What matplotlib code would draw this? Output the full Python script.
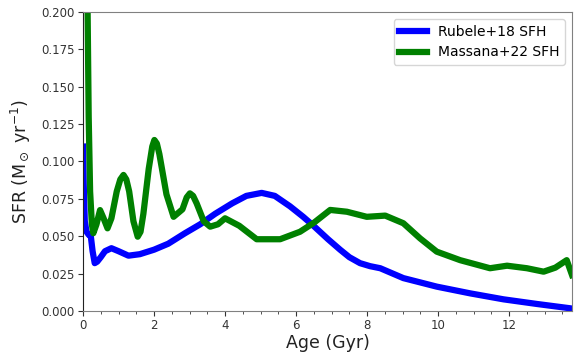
import matplotlib.pyplot as plt
from matplotlib.ticker import MultipleLocator, FormatStrFormatter

# Rubele+18 SFH
age_rubele = [0.0, 0.02, 0.05, 0.1, 0.16, 0.22, 0.27, 0.33, 0.4, 0.5, 0.62, 0.8, 1.0,
              1.28, 1.6, 2.0, 2.4, 2.87, 3.3, 3.72, 4.2, 4.6, 5.03, 5.4, 5.83,
              6.2, 6.49, 6.9, 7.24, 7.5, 7.8, 8.08, 8.37, 9.02, 9.96, 10.9,
              11.84, 12.78, 13.72, 13.77]
sfr_rubele = [0.110, 0.085, 0.060, 0.053, 0.051, 0.050, 0.040, 0.032, 0.033, 0.036,
              0.040, 0.042, 0.040, 0.037, 0.038, 0.041, 0.045, 0.052, 0.058,
              0.065, 0.072, 0.077, 0.079, 0.077, 0.070, 0.063, 0.057, 0.048,
              0.041, 0.036, 0.032, 0.030, 0.0286, 0.022, 0.0163, 0.0118,
              0.0078, 0.0047, 0.0018, 0.0016]

# Massana+22 SFH
age_massana = [0.1, 0.13, 0.16, 0.2, 0.25, 0.29, 0.38, 0.48, 0.58, 0.69, 0.8, 0.95,
               1.05, 1.14, 1.22, 1.3, 1.42, 1.54, 1.62, 1.7, 1.85, 1.95, 2.01,
               2.08, 2.15, 2.35, 2.55, 2.8, 2.92, 3.01, 3.1, 3.2, 3.4, 3.58,
               3.8, 4.0, 4.4, 4.89, 5.55, 6.11, 6.5, 6.96, 7.43, 7.99, 8.51,
               9.02, 9.49, 9.96, 10.62, 11.46, 11.94, 12.5, 12.97, 13.3, 13.62,
               13.77]
sfr_massana = [0.30, 0.20, 0.13, 0.08, 0.058, 0.052, 0.058, 0.0675, 0.062, 0.0553,
               0.062, 0.08, 0.088, 0.091, 0.088, 0.08, 0.06, 0.0497, 0.053,
               0.065, 0.095, 0.110, 0.1144, 0.112, 0.105, 0.078, 0.063, 0.068,
               0.076, 0.0787, 0.077, 0.072, 0.06, 0.0564, 0.058, 0.062, 0.057,
               0.048, 0.048, 0.053, 0.059, 0.0676, 0.0664, 0.063, 0.0638,
               0.0587, 0.0486, 0.0397, 0.034, 0.0286, 0.0303, 0.0286, 0.0263,
               0.029, 0.034, 0.024]

fig = plt.figure(figsize=(5.74, 3.53), dpi=100)
ax = fig.add_axes([0.1446, 0.119, 0.852, 0.847])

ax.plot(age_rubele, sfr_rubele, color="blue", lw=4.5, label="Rubele+18 SFH",
        solid_joinstyle="round")
ax.plot(age_massana, sfr_massana, color="green", lw=4.5, label="Massana+22 SFH",
        solid_joinstyle="round")

ax.set_xlim(0, 13.77)
ax.set_ylim(0, 0.2)
ax.xaxis.set_major_locator(MultipleLocator(2))
ax.xaxis.set_minor_locator(MultipleLocator(0.5))
ax.yaxis.set_major_locator(MultipleLocator(0.025))
ax.yaxis.set_major_formatter(FormatStrFormatter("%.3f"))
ax.tick_params(labelsize=8.5, colors="#333333", length=3.5, pad=2.5)
ax.tick_params(which="minor", length=2, color="#333333")

for s in ["top", "right", "bottom"]:
    ax.spines[s].set_color("#808080")
ax.spines["left"].set_color("#222222")

ax.set_xlabel("Age (Gyr)", fontsize=12.5, color="#222222", labelpad=1)
ax.set_ylabel(r"SFR (M$_\odot$ yr$^{-1}$)", fontsize=12.5, color="#222222", labelpad=6)
ax.legend(loc="upper right", fontsize=10)

plt.savefig("out.png", dpi=100)
